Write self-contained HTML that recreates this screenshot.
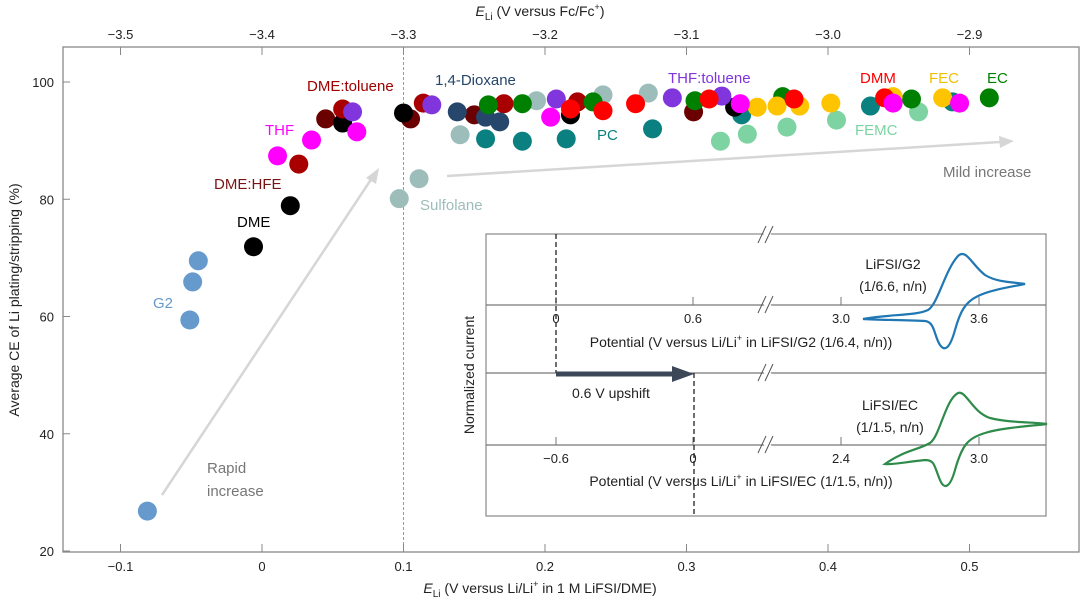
<!DOCTYPE html>
<html><head><meta charset="utf-8"><style>
html,body{margin:0;padding:0;background:#fff}
svg{display:block;font-family:"Liberation Sans","DejaVu Sans",sans-serif}
</style></head><body>
<svg id="chart" width="1080" height="602" viewBox="0 0 1080 602">
<g id="axes"></g>
<g id="inset">
  <rect x="486" y="234" width="560" height="282" fill="#fff" stroke="#888" stroke-width="1.2"/>
  <line x1="486" y1="305" x2="1046" y2="305" stroke="#777" stroke-width="1.2"/>
  <line x1="486" y1="373" x2="1046" y2="373" stroke="#777" stroke-width="1.2"/>
  <line x1="486" y1="445" x2="1046" y2="445" stroke="#777" stroke-width="1.2"/>
  <g stroke="#777" stroke-width="1">
    <line x1="556" y1="305" x2="556" y2="297"/><line x1="693" y1="305" x2="693" y2="297"/><line x1="841" y1="305" x2="841" y2="297"/><line x1="979" y1="305" x2="979" y2="297"/>
    <line x1="556" y1="445" x2="556" y2="437"/><line x1="693" y1="445" x2="693" y2="437"/><line x1="841" y1="445" x2="841" y2="437"/><line x1="979" y1="445" x2="979" y2="437"/>
  </g>
  <g stroke="#fff" stroke-width="6">
    <line x1="764" y1="229" x2="771" y2="240"/><line x1="764" y1="299" x2="771" y2="311"/><line x1="764" y1="367" x2="771" y2="379"/><line x1="764" y1="439" x2="771" y2="451"/>
  </g>
  <g stroke="#555" stroke-width="1">
    <line x1="758" y1="243" x2="766" y2="226"/><line x1="765" y1="243" x2="773" y2="226"/>
    <line x1="758" y1="313" x2="766" y2="296"/><line x1="765" y1="313" x2="773" y2="296"/>
    <line x1="758" y1="381" x2="766" y2="364"/><line x1="765" y1="381" x2="773" y2="364"/>
    <line x1="758" y1="453" x2="766" y2="436"/><line x1="765" y1="453" x2="773" y2="436"/>
  </g>
  <line x1="556" y1="234" x2="556" y2="373" stroke="#222" stroke-width="1.3" stroke-dasharray="5,3"/>
  <line x1="694" y1="373" x2="694" y2="516" stroke="#222" stroke-width="1.3" stroke-dasharray="5,3"/>
  <line x1="556" y1="374" x2="675" y2="374" stroke="#3c4858" stroke-width="5"/>
  <polygon points="672,366 694,374 672,382" fill="#3c4858"/>
  <g font-size="13" fill="#222" text-anchor="middle">
    <text x="556" y="323">0</text><text x="693" y="323">0.6</text><text x="841" y="323">3.0</text><text x="979" y="323">3.6</text>
    <text x="556" y="463">−0.6</text><text x="693" y="463">0</text><text x="841" y="463">2.4</text><text x="979" y="463">3.0</text>
  </g>
  <text x="741" y="347" font-size="14" fill="#222" text-anchor="middle">Potential (V versus Li/Li<tspan font-size="9" dy="-6">+</tspan><tspan dy="6"> in LiFSI/G2 (1/6.4, n/n))</tspan></text>
  <text x="741" y="486" font-size="14" fill="#222" text-anchor="middle">Potential (V versus Li/Li<tspan font-size="9" dy="-6">+</tspan><tspan dy="6"> in LiFSI/EC (1/1.5, n/n))</tspan></text>
  <text x="572" y="398" font-size="14" fill="#222">0.6 V upshift</text>
  <text transform="translate(474,375) rotate(-90)" font-size="14" fill="#222" text-anchor="middle">Normalized current</text>
  <text x="893" y="269" font-size="14" fill="#222" text-anchor="middle">LiFSI/G2</text>
  <text x="893" y="291" font-size="14" fill="#222" text-anchor="middle">(1/6.6, n/n)</text>
  <text x="890" y="410" font-size="14" fill="#222" text-anchor="middle">LiFSI/EC</text>
  <text x="890" y="432" font-size="14" fill="#222" text-anchor="middle">(1/1.5, n/n)</text>
  <path d="M863,319 C890,314 915,316 928,310 C938,304 945,270 958,256 C966,248 972,265 985,275 C998,283 1015,282 1025,284 C1010,287 990,290 978,296 C965,302 960,312 955,330 C950,348 945,352 940,345 C934,336 935,322 925,321 C905,320 880,320 863,319 Z" fill="none" stroke="#1f77b4" stroke-width="2.2"/>
  <path d="M885,464 C905,450 918,450 930,443 C940,436 945,400 958,393 C966,390 972,412 990,418 C1010,423 1035,422 1047,424 C1030,426 1000,428 985,433 C968,438 962,445 955,470 C950,488 944,490 940,480 C934,466 935,460 925,460 C905,462 893,465 885,464 Z" fill="none" stroke="#2e8b4a" stroke-width="2.2"/>
</g>
<g id="marks"></g>
<g id="labels"></g>
</svg>
<script>
// Main scatter data: x = E_Li (V vs Li/Li+ in 1 M LiFSI/DME), y = average CE (%)
const g2X = [-0.081,-0.051,-0.049,-0.045];
const g2Y = [26.8,59.4,65.9,69.5];
const dmeX = [-0.006,0.020,0.057,0.100,0.218,0.334];
const dmeY = [71.9,78.9,93.0,94.7,94.4,95.7];
const dmeHfeX = [0.026,0.057,0.114,0.171,0.223];
const dmeHfeY = [86.0,95.4,96.4,96.3,96.6];
const dmeTolX = [0.045,0.105,0.150,0.305];
const dmeTolY = [93.7,93.7,94.4,94.9];
const thfX = [0.011,0.035,0.067,0.204,0.338,0.446,0.493];
const thfY = [87.4,90.1,91.5,94.0,96.3,96.4,96.4];
const thfTolX = [0.064,0.120,0.208,0.290,0.325];
const thfTolY = [94.9,96.1,97.1,97.3,97.6];
const dioxX = [0.138,0.158,0.168];
const dioxY = [94.9,94.0,93.2];
const sulfX = [0.097,0.111,0.140,0.194,0.241,0.273];
const sulfY = [80.1,83.5,91.0,96.8,97.8,98.1];
const pcX = [0.158,0.184,0.215,0.276,0.339,0.430,0.488];
const pcY = [90.3,89.9,90.3,92.0,94.4,95.9,96.6];
const femcX = [0.324,0.343,0.371,0.406,0.464];
const femcY = [89.9,91.1,92.3,93.5,94.9];
const ecX = [0.160,0.184,0.234,0.306,0.368,0.459,0.514];
const ecY = [96.1,96.3,96.6,96.8,97.5,97.1,97.3];
const dmmX = [0.218,0.241,0.264,0.316,0.376,0.440];
const dmmY = [95.4,95.1,96.3,97.1,97.1,97.3];
const fecX = [0.350,0.364,0.380,0.402,0.446,0.481];
const fecY = [95.7,95.9,95.9,96.4,97.5,97.3];
const bottomTicks = [-0.1,0,0.1,0.2,0.3,0.4,0.5];
const bottomTickLabels = ["−0.1","0","0.1","0.2","0.3","0.4","0.5"];
const topTicks = [-3.5,-3.4,-3.3,-3.2,-3.1,-3.0,-2.9];
const topTickLabels = ["−3.5","−3.4","−3.3","−3.2","−3.1","−3.0","−2.9"];
const yTicks = [20,40,60,80,100];

const NS = "http://www.w3.org/2000/svg";
const L=63,R=1079,T=47,B=552;
function sx(v){return 262 + v*1415;}
function sxTop(v){return sx(v + 3.4);}
function sy(v){return 551 - (v-20)*5.8625;}
function mk(tag, attrs, parent){const e=document.createElementNS(NS,tag);for(const k in attrs)e.setAttribute(k,attrs[k]);parent.appendChild(e);return e;}

const axes=document.getElementById('axes');
const frame=mk('rect',{x:L,y:T,width:R-L,height:B-T,fill:'none',stroke:'#888','stroke-width':1.3},axes);


const ref=mk('line',{x1:sx(0.1),y1:T,x2:sx(0.1),y2:B,stroke:'#999','stroke-width':1,'stroke-dasharray':'3,2'},axes);


bottomTicks.forEach((v,i)=>{
  const t=mk('line',{x1:sx(v),y1:B,x2:sx(v),y2:B-8,stroke:'#888','stroke-width':1},axes);
  
  
  const tx=mk('text',{x:sx(v),y:B+19,'font-size':13,fill:'#222','text-anchor':'middle'},axes);
  tx.textContent=bottomTickLabels[i];
  
  
});
topTicks.forEach((v,i)=>{
  const t=mk('line',{x1:sxTop(v),y1:T,x2:sxTop(v),y2:T+8,stroke:'#888','stroke-width':1},axes);
  
  
  const tx=mk('text',{x:sxTop(v),y:T-8,'font-size':13,fill:'#222','text-anchor':'middle'},axes);
  tx.textContent=topTickLabels[i];
  
  
});
yTicks.forEach(v=>{
  const t=mk('line',{x1:L,y1:sy(v),x2:L+7,y2:sy(v),stroke:'#888','stroke-width':1},axes);
  
  
  const tx=mk('text',{x:L-9,y:sy(v)+5,'font-size':13,fill:'#222','text-anchor':'end'},axes);
  tx.textContent=String(v);
  
  
});
const yt=mk('text',{transform:'translate(19,300) rotate(-90)','font-size':14,fill:'#222','text-anchor':'middle'},axes);
yt.textContent='Average CE of Li plating/stripping (%)';


const xt=mk('text',{x:540,y:593,'font-size':14,fill:'#222','text-anchor':'middle'},axes);
xt.innerHTML='<tspan font-style="italic">E</tspan><tspan font-size="10" dy="4">Li</tspan><tspan dy="-4"> (V versus Li/Li</tspan><tspan font-size="9" dy="-6">+</tspan><tspan dy="6"> in 1 M LiFSI/DME)</tspan>';


const tt=mk('text',{x:540,y:16,'font-size':14,fill:'#222','text-anchor':'middle'},axes);
tt.innerHTML='<tspan font-style="italic">E</tspan><tspan font-size="10" dy="4">Li</tspan><tspan dy="-4"> (V versus Fc/Fc</tspan><tspan font-size="9" dy="-6">+</tspan><tspan dy="6">)</tspan>';


// trend arrows
const a1=mk('line',{x1:162,y1:495,x2:372,y2:178,stroke:'#d6d6d6','stroke-width':2.5},axes);


const a1h=mk('polygon',{points:'379,168 366,178 376,184',fill:'#d6d6d6'},axes);


const a2=mk('line',{x1:447,y1:176,x2:1000,y2:142,stroke:'#d6d6d6','stroke-width':2.5},axes);


const a2h=mk('polygon',{points:'1014,141 999,136 1000,148',fill:'#d6d6d6'},axes);



const marks=document.getElementById('marks');
function series(xs,ys,color,name){
  xs.forEach((x,i)=>{
    const c=mk('circle',{cx:sx(x),cy:sy(ys[i]),r:9.5,fill:color},marks);
    
    
  });
}
series(sulfX,sulfY,'#9dbdba','sulfolane');
series(femcX,femcY,'#7dd3a1','femc');
series(pcX,pcY,'#0b8080','pc');
series(g2X,g2Y,'#6699cc','g2');
series(dmeTolX,dmeTolY,'#6b0000','dme-toluene');
series(dmeX,dmeY,'#000000','dme');
series(dmeHfeX,dmeHfeY,'#a80000','dme-hfe');
series(dioxX,dioxY,'#26466b','dioxane');
series(ecX,ecY,'#008000','ec');
series(fecX,fecY,'#ffc400','fec');
series(thfTolX,thfTolY,'#8035dd','thf-toluene');
series(dmmX,dmmY,'#ff0000','dmm');
series(thfX,thfY,'#ff00ff','thf');

const labels=document.getElementById('labels');
const labs=[
 ['G2',153,308,'#6699cc','g2-label'],
 ['DME',237,227,'#000','dme-label'],
 ['DME:HFE',214,189,'#7a1414','dme-hfe-label'],
 ['THF',265,135,'#ff00ff','thf-label'],
 ['DME:toluene',307,91,'#a00000','dme-toluene-label'],
 ['1,4-Dioxane',435,85,'#26466b','dioxane-label'],
 ['Sulfolane',420,210,'#9dbdba','sulfolane-label'],
 ['PC',597,140,'#0b8080','pc-label'],
 ['THF:toluene',668,83,'#8035dd','thf-toluene-label'],
 ['DMM',860,83,'#ff0000','dmm-label'],
 ['FEC',929,83,'#f0c000','fec-label'],
 ['EC',987,83,'#008000','ec-label'],
 ['FEMC',855,135,'#7dd3a1','femc-label'],
 ['Mild increase',943,177,'#777','mild-increase-label'],
 ['Rapid',207,473,'#777','rapid-label'],
 ['increase',207,496,'#777','increase-label']
];
labs.forEach(l=>{
  const t=mk('text',{x:l[1],y:l[2],'font-size':15,fill:l[3]},labels);
  t.textContent=l[0];
  
  
});
</script>
</body></html>
